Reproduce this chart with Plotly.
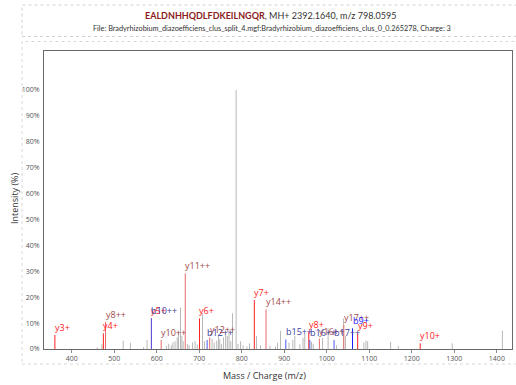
import plotly.graph_objects as go

# Unannotated peaks (m/z, relative intensity %)
other_mz = [459.6, 471.0, 520.8, 538.0, 569.0, 577.0, 623.0, 628.0, 634.0, 638.0,
            643.0, 648.0, 651.0, 655.7, 659.0, 662.0, 672.0, 676.0, 684.0, 690.0,
            695.0, 707.5, 712.0, 730.0, 735.0, 741.0, 745.0, 748.0, 752.0, 757.0,
            762.0, 766.0, 770.0, 774.0, 778.0, 786.6, 791.0, 797.0, 803.0, 812.0,
            818.0, 834.6, 844.0, 866.0, 879.0, 884.0, 891.0, 911.0, 920.0, 924.7,
            936.5, 944.0, 948.0, 964.0, 968.0, 990.0, 1003.0, 1023.0, 1039.0, 1044.0,
            1087.0, 1092.0, 1096.0, 1150.0, 1168.0, 1295.0, 1413.0]
other_int = [0.6, 1.8, 3.2, 2.4, 0.7, 3.5, 1.2, 2.0, 1.5, 2.6,
             3.0, 4.5, 6.5, 16.0, 5.0, 3.0, 2.0, 1.5, 2.5, 3.0,
             1.8, 13.8, 3.0, 4.0, 2.5, 3.2, 5.5, 3.8, 2.0, 4.5,
             6.0, 5.0, 7.3, 3.0, 13.8, 100.0, 2.0, 3.0, 1.5, 1.0,
             2.2, 5.0, 1.5, 1.2, 1.0, 2.4, 7.0, 2.5, 3.5, 5.0,
             1.8, 4.3, 6.0, 2.8, 2.0, 4.3, 8.0, 1.5, 11.8, 5.0,
             2.5, 3.2, 3.0, 2.8, 1.2, 2.2, 7.0]

# Annotated fragment ions
ion_labels = ["y3+", "y4+", "y8++", "y5+", "b10++", "y10++", "y11++", "y6+", "b12++",
              "y12++", "y7+", "y14++", "b15++", "y8+", "b16++", "y16++", "b17++",
              "y17++", "b9+", "y9+", "y10+"]
ion_mz = [360.20, 474.24, 479.28, 587.33, 587.27, 610.33, 666.87, 700.41, 718.32,
          724.38, 829.45, 856.94, 903.43, 957.55, 959.97, 982.49, 1016.99,
          1040.00, 1060.44, 1072.58, 1219.64]
ion_int = [5.4, 6.0, 10.5, 11.8, 11.8, 3.5, 29.2, 11.8, 3.5,
           4.5, 18.9, 15.3, 3.7, 6.7, 3.5, 4.0, 3.5,
           9.3, 8.0, 6.0, 2.2]

x_ticks = [400, 500, 600, 700, 800, 900, 1000, 1100, 1200, 1300, 1400]
y_ticks = [0, 10, 20, 30, 40, 50, 60, 70, 80, 90, 100]
y_tick_text = [f"{v}%" for v in y_ticks]

series_style = {
    "y+": dict(line="#ff2020", text="#ff1a1a"),
    "y++": dict(line="#e86a6a", text="#a04a4a"),
    "b+": dict(line="#1a1aff", text="#2020ff"),
    "b++": dict(line="#4a5cf0", text="#3e3e9e"),
}


def series_of(label):
    ion = label[0]
    charge = "++" if label.endswith("++") else "+"
    return ion + charge


def stems(xs, hs):
    sx, sy = [], []
    for x, h in zip(xs, hs):
        sx += [x, x, None]
        sy += [0, h, None]
    return sx, sy


fig = go.Figure()

gx, gy = stems(other_mz, other_int)
fig.add_trace(go.Scatter(x=gx, y=gy, mode="lines",
                         line=dict(color="#b8b8b8", width=1), hoverinfo="skip",
                         showlegend=False))

for key, st in series_style.items():
    idx = [i for i, lab in enumerate(ion_labels) if series_of(lab) == key]
    sx, sy = stems([ion_mz[i] for i in idx], [ion_int[i] for i in idx])
    fig.add_trace(go.Scatter(x=sx, y=sy, mode="lines",
                             line=dict(color=st["line"], width=1),
                             hoverinfo="skip", showlegend=False))

label_font = "Open Sans"
for lab, mz, h in zip(ion_labels, ion_mz, ion_int):
    st = series_style[series_of(lab)]
    fig.add_annotation(x=mz, y=h, text=lab, showarrow=False,
                       xanchor="left", yanchor="bottom", xshift=-2, yshift=-1,
                       font=dict(family=label_font, size=9, color=st["text"]))

# Layout geometry in pixels
W, H = 516, 385
L, R, T, B = 44, 512, 51, 349


def px_x(p):
    return (p - L) / (R - L)


def px_y(p):
    return (B - p) / (B - T)


# Dotted frames around the header and the plot
fig.add_shape(type="rect", xref="paper", yref="paper",
              x0=px_x(22), x1=px_x(518), y0=px_y(36.5), y1=px_y(5),
              line=dict(color="#d0d0d0", width=1, dash="dot"))
fig.add_shape(type="rect", xref="paper", yref="paper",
              x0=px_x(22), x1=px_x(518), y0=px_y(364), y1=px_y(41.5),
              line=dict(color="#d8d8d8", width=1, dash="dot"))

fig.add_annotation(xref="paper", yref="paper", x=px_x(270), y=px_y(15.5),
                   text="<span style='color:#8b1c1c'><b>EALDNHHQDLFDKEILNGQR</b></span>"
                        "<span style='color:#333333'>, MH+ 2392.1640, m/z 798.0595</span>",
                   showarrow=False, xanchor="center", yanchor="middle",
                   font=dict(family="Lato", size=9))
fig.add_annotation(xref="paper", yref="paper", x=px_x(272), y=px_y(28.5),
                   text="File: Bradyrhizobium_diazoefficiens_clus_split_4.mgf:"
                        "Bradyrhizobium_diazoefficiens_clus_0_0.265278, Charge: 3",
                   showarrow=False, xanchor="center", yanchor="middle",
                   font=dict(family="Lato", size=7.3, color="#333333"))

fig.add_annotation(xref="paper", yref="paper", x=px_x(264.5), y=px_y(375),
                   text="Mass / Charge (m/z)", showarrow=False,
                   xanchor="center", yanchor="middle",
                   font=dict(family="Open Sans", size=9, color="#333333"))
fig.add_annotation(xref="paper", yref="paper", x=px_x(14), y=px_y(198),
                   text="Intensity (%)", showarrow=False, textangle=-90,
                   xanchor="center", yanchor="middle",
                   font=dict(family="Open Sans", size=9, color="#333333"))

fig.update_layout(
    width=W, height=H,
    margin=dict(l=L, r=W - R, t=T, b=H - B),
    paper_bgcolor="white", plot_bgcolor="white",
    showlegend=False,
    xaxis=dict(range=[334.6, 1435.6], tickvals=x_ticks,
               ticks="outside", ticklen=3, tickcolor="#888888",
               showgrid=False, zeroline=False,
               showline=True, linecolor="#6a6a6a", linewidth=1, mirror=True,
               tickfont=dict(family="Open Sans", size=7, color="#555555")),
    yaxis=dict(range=[0, 115.06], tickvals=y_ticks, ticktext=y_tick_text,
               ticks="", showgrid=False, zeroline=False,
               showline=True, linecolor="#6a6a6a", linewidth=1, mirror=True,
               ticklabelstandoff=2,
               tickfont=dict(family="Open Sans", size=7, color="#555555")),
)

fig.write_html("out.html")
